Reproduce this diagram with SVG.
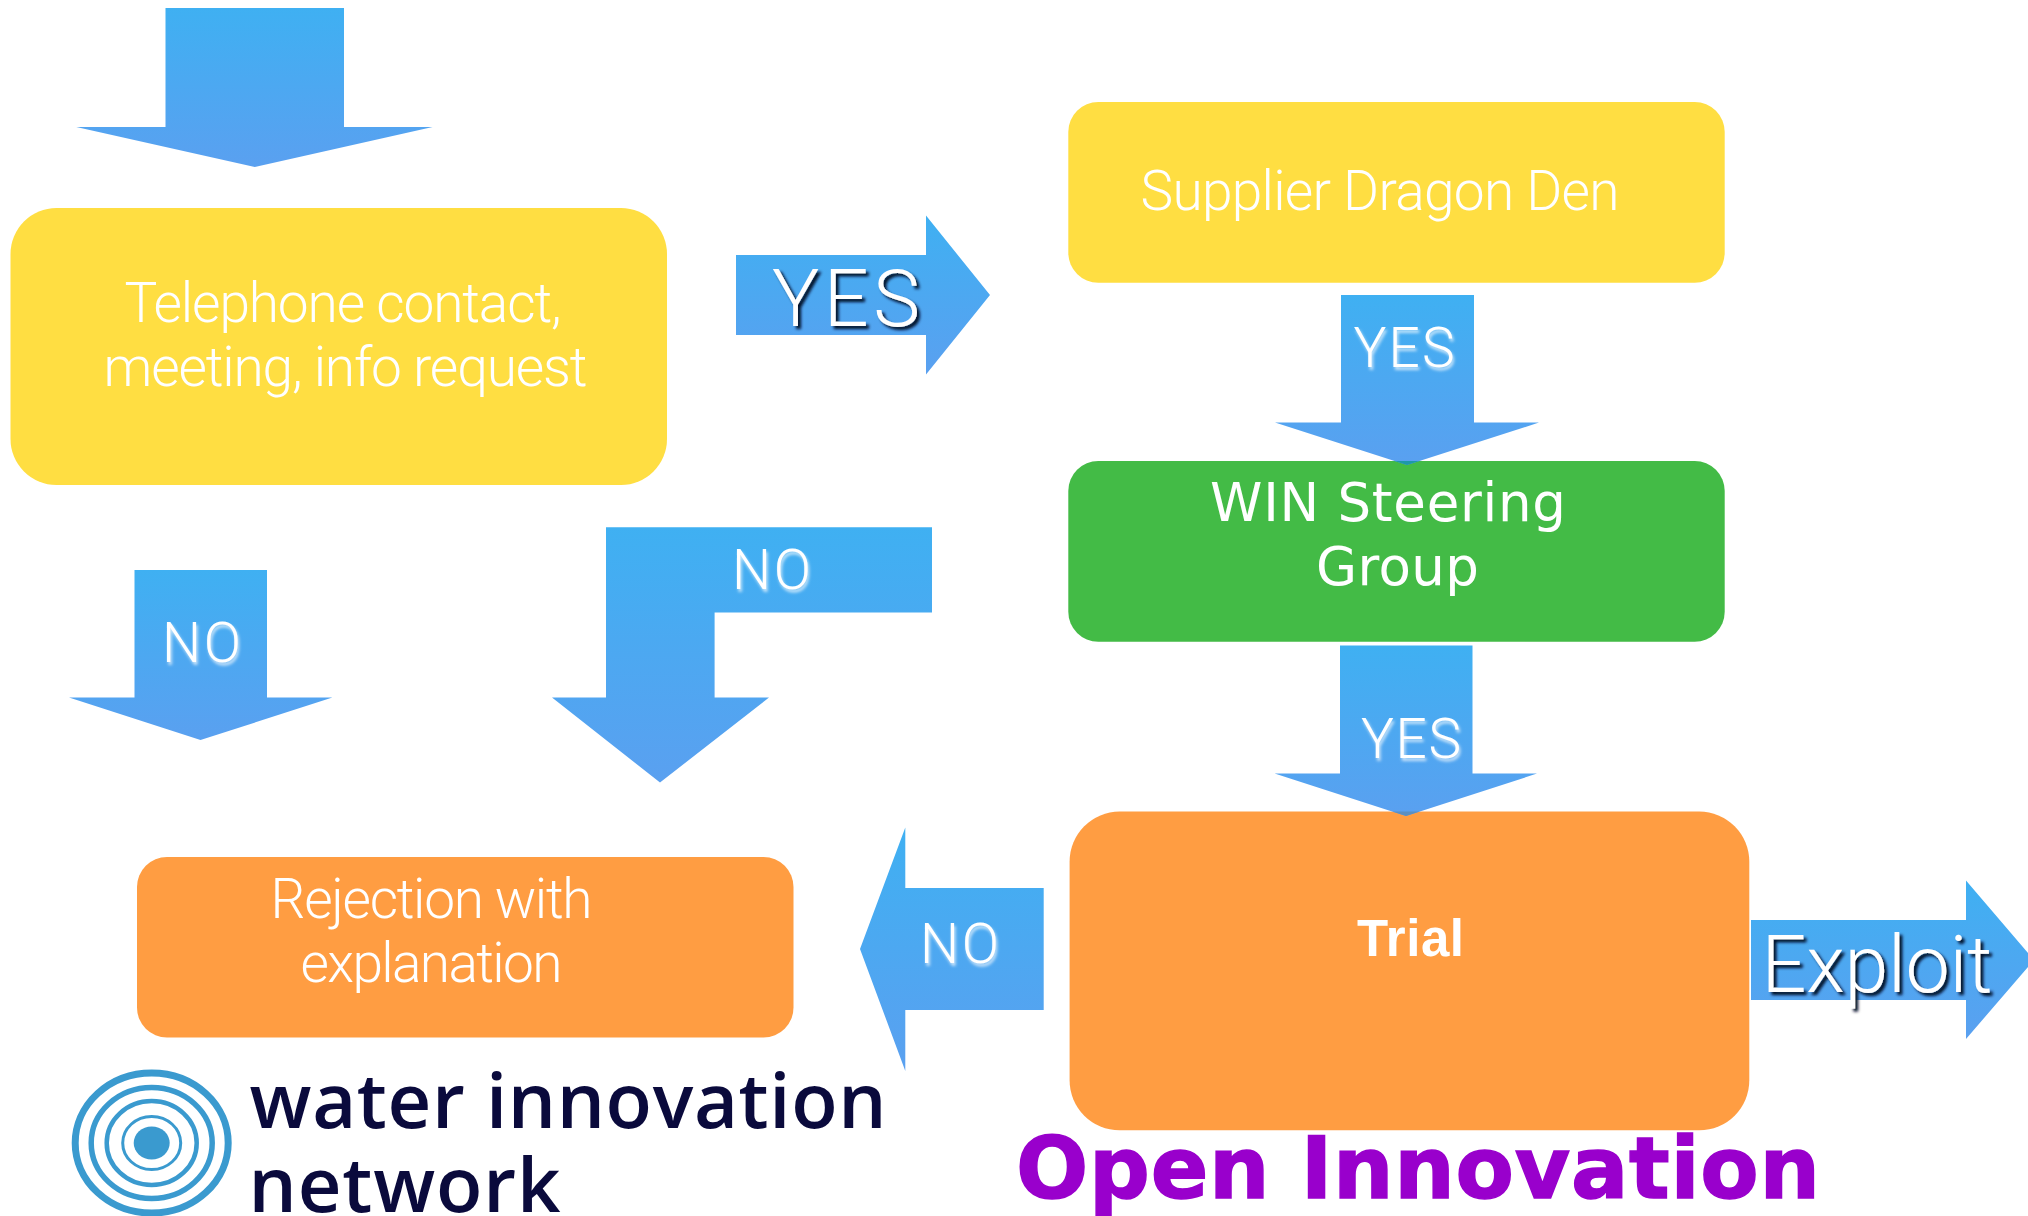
<svg xmlns="http://www.w3.org/2000/svg" width="2028" height="1216" viewBox="0 0 2028 1216">
<style>
.lt{font-family:Roboto,"Liberation Sans",sans-serif;font-weight:300;fill:#fff;font-size:55px}
.yl{fill:#FFDE42}.gr{fill:#43BB46}.or{fill:#FF9D42}
.ar{fill:url(#blue)}
.big{font-size:79px}
.ls{filter:url(#lightShadow)}
.ds{filter:url(#darkShadow)}
.win{font-family:"DejaVu Sans",sans-serif;font-size:53px;fill:#fff}
.logo{font-family:"Open Sans",sans-serif;font-weight:600;font-size:76px;fill:#0A0A3C}
.ring{fill:none;stroke:#3A9ACF}
</style>
<defs>
<linearGradient id="blue" x1="0" y1="0" x2="0" y2="1"><stop offset="0" stop-color="#3FB0F2"/><stop offset="1" stop-color="#5AA0F0"/></linearGradient>
<filter id="lightShadow" x="-20%" y="-20%" width="140%" height="150%"><feDropShadow dx="1.5" dy="3" stdDeviation="1.5" flood-color="#fff" flood-opacity="0.7"/></filter>
<filter id="darkShadow" x="-20%" y="-20%" width="140%" height="150%"><feDropShadow dx="3" dy="3" stdDeviation="1.5" flood-color="#011026" flood-opacity="1"/></filter>
</defs>
<rect width="2028" height="1216" fill="#fff"/>
<g id="telephone"><rect class="yl" x="10.5" y="208" width="656.5" height="277" rx="46"/>
<text class="lt" x="124.5" y="322" textLength="437">Telephone contact,</text>
<text class="lt" x="103.5" y="386" textLength="484">meeting, info request</text></g>
<g id="supplier"><rect class="yl" x="1068.3" y="102" width="656.4" height="180.7" rx="30"/>
<text class="lt" x="1140.5" y="210" textLength="479">Supplier Dragon Den</text></g>
<g id="steering"><rect class="gr" x="1068.3" y="461" width="656.4" height="180.7" rx="30"/>
<text class="win" x="1210" y="520.5" textLength="356">WIN Steering</text>
<text class="win" x="1316" y="584.5" textLength="163">Group</text></g>
<g id="trial"><rect class="or" x="1069.6" y="811.6" width="679.7" height="318.7" rx="50"/>
<text x="1357" y="956" font-family="Liberation Sans,sans-serif" font-weight="700" font-size="51" fill="#fff" textLength="107">Trial</text></g>
<g id="rejection"><rect class="or" x="137" y="857" width="656.5" height="180.6" rx="30"/>
<text class="lt" x="270.5" y="917.5" textLength="322">Rejection with</text>
<text class="lt" x="300.5" y="981.5" textLength="262">explanation</text></g>
<g id="connectors">
<polygon class="ar" points="165.5,8 344,8 344,127 432.6,127 254.8,167 76.3,127 165.5,127"/>
<g><polygon class="ar" points="736,255 926,255 926,215.6 990,295 926,374.6 926,335 736,335"/>
<text class="lt big ds" x="772" y="326" textLength="148">YES</text></g>
<g><polygon class="ar" points="1341,295 1474,295 1474,422.6 1539,422.6 1407,465 1275,422.6 1341,422.6"/>
<polygon fill="#1E98A8" points="1394.5,461 1419.5,461 1407,465"/>
<text class="lt ls" x="1353.5" y="367" textLength="101">YES</text></g>
<g><polygon class="ar" points="1340,645.6 1472.5,645.6 1472.5,773.6 1537,773.6 1406,816 1274.6,773.6 1340,773.6"/>
<polygon fill="#5C8FC0" points="1392.4,811.6 1419.6,811.6 1406,816"/>
<text class="lt ls" x="1361" y="757.5" textLength="100">YES</text></g>
<g><polygon class="ar" points="134.5,570 267,570 267,697.6 332.4,697.6 200.5,740 69,697.6 134.5,697.6"/>
<text class="lt ls" x="162" y="662" textLength="79">NO</text></g>
<g><polygon class="ar" points="606,527.3 932,527.3 932,612.6 714.6,612.6 714.6,697.6 769,697.6 660,782.5 552,697.6 606,697.6"/>
<text class="lt ls" x="732" y="589" textLength="79">NO</text></g>
<g><polygon class="ar" points="1043.7,888 1043.7,1010 905.3,1010 905.3,1071 860,949 905.3,827.5 905.3,888"/>
<text class="lt ls" x="920" y="963" textLength="79">NO</text></g>
<g><polygon class="ar" points="1751,920 1966,920 1966,880.6 2034,960 1966,1039 1966,1000 1751,1000"/>
<text class="lt big ds" x="1761.5" y="992" textLength="231">Exploit</text></g>
</g>
<g id="logo">
<ellipse class="ring" cx="151.7" cy="1143" rx="76.5" ry="70" stroke-width="7"/>
<ellipse class="ring" cx="151.7" cy="1143" rx="60.5" ry="55.5" stroke-width="5.5"/>
<ellipse class="ring" cx="151.7" cy="1143" rx="45" ry="42" stroke-width="4.5"/>
<ellipse class="ring" cx="151.7" cy="1143" rx="29" ry="26.5" stroke-width="3"/>
<ellipse cx="151.7" cy="1143" rx="18" ry="16.5" fill="#3A9ACF"/>
<text class="logo" x="249.5" y="1128.4" textLength="637">water innovation</text>
<text class="logo" x="248.5" y="1212" textLength="312">network</text>
</g>
<text id="title" x="1016" y="1198" font-family="DejaVu Sans,sans-serif" font-weight="700" font-size="85" fill="#9900CC" stroke="#9900CC" stroke-width="1.5" textLength="804">Open Innovation</text>
</svg>
